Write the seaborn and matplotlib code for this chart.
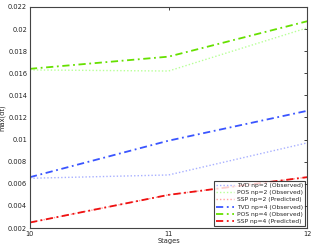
import matplotlib
matplotlib.use("Agg")
import matplotlib.pyplot as plt
import seaborn as sns
import pandas as pd

stages = [10, 11, 12]
tvd_np2 = [0.0065, 0.0068, 0.0097]
pos_np2 = [0.0163, 0.0162, 0.0201]
ssp_np2 = [0.0025, 0.0050, 0.0066]
tvd_np4 = [0.0066, 0.0099, 0.0126]
pos_np4 = [0.0164, 0.0175, 0.0207]
ssp_np4 = [0.0025, 0.0050, 0.0066]

labels = ["TVD np=2 (Observed)", "POS np=2 (Observed)", "SSP np=2 (Predicted)",
          "TVD np=4 (Observed)", "POS np=4 (Observed)", "SSP np=4 (Predicted)"]
series = [tvd_np2, pos_np2, ssp_np2, tvd_np4, pos_np4, ssp_np4]
colors = ["#a8b0ff", "#b8ff98", "#ff9f9f", "#3a55ff", "#66e000", "#ee1010"]
styles = [(0, (1, 1.5)), (0, (1, 1.5)), (0, (1, 1.5)),
          (0, (4, 2, 1, 2)), (0, (4, 2, 1, 2)), (0, (4, 2, 1, 2))]
widths = [1.0, 1.0, 1.0, 1.3, 1.3, 1.3]

sns.set_style("white")
plt.rcParams['font.family'] = ['DejaVu Sans']

fig = plt.figure(figsize=(3.15, 2.46), dpi=100)
ax = fig.add_axes([0.095, 0.073, 0.88, 0.899])

for lab, vals, c, ls, lw in zip(labels, series, colors, styles, widths):
    df = pd.DataFrame({"Stages": stages, "v": vals})
    sns.lineplot(data=df, x="Stages", y="v", ax=ax, color=c, linestyle=ls,
                 linewidth=lw, label=lab)

ax.set_xlim(10, 12)
ax.set_ylim(0.002, 0.022)
ax.set_xticks([10, 11, 12])
ax.set_xticklabels(["10", "11", "12"])
yt = [0.002, 0.004, 0.006, 0.008, 0.01, 0.012, 0.014, 0.016, 0.018, 0.02, 0.022]
ax.set_yticks(yt)
ax.set_yticklabels(["0.002", "0.004", "0.006", "0.008", "0.01", "0.012",
                    "0.014", "0.016", "0.018", "0.02", "0.022"])
ax.tick_params(direction="in", length=2.5, width=0.6, labelsize=4.8,
               top=True, right=True, pad=2, colors="#222222")
ax.set_xlabel("Stages", fontsize=4.8, labelpad=1)
ax.set_ylabel("max(dt)", fontsize=4.8, labelpad=2)
for s in ax.spines.values():
    s.set_color("#444444")
    s.set_linewidth(0.8)

leg = ax.legend(loc="lower right", fontsize=4.3, frameon=True, fancybox=False,
                edgecolor="#111111", handlelength=3.0, borderpad=0.35,
                labelspacing=0.35, handletextpad=0.5, borderaxespad=0.3)
leg.get_frame().set_linewidth(0.8)

fig.savefig("out.png", dpi=100)
